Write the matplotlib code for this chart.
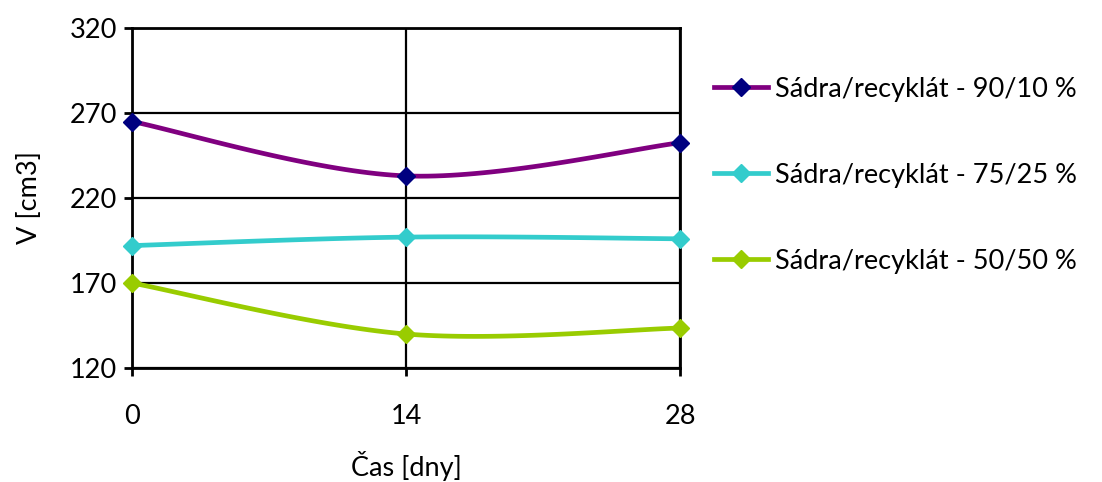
import numpy as np
import matplotlib
matplotlib.use("Agg")
import matplotlib.pyplot as plt
from matplotlib.lines import Line2D

plt.rcParams['font.family'] = ['Lato', 'DejaVu Sans']

# data
days = [0, 14, 28]
v_90_10 = [265, 233, 252.5]
v_75_25 = [192, 197, 196]
v_50_50 = [170, 140, 143.5]
labels = ["Sádra/recyklát - 90/10 %", "Sádra/recyklát - 75/25 %", "Sádra/recyklát - 50/50 %"]
line_cols = ["#800080", "#33CCCC", "#99CC00"]
mark_cols = ["#000080", "#33CCCC", "#99CC00"]
yticks = [120, 170, 220, 270, 320]


def smooth(x, y, n=40):
    # excel-like smoothed line (catmull-rom style bezier between points)
    x = np.asarray(x, float)
    y = np.asarray(y, float)
    px = np.concatenate([[x[0]], x, [x[-1]]])
    py = np.concatenate([[y[0]], y, [y[-1]]])
    xs, ys = [], []
    t = np.linspace(0, 1, n)
    for i in range(1, len(px) - 2):
        p0 = np.array([px[i], py[i]])
        p3 = np.array([px[i + 1], py[i + 1]])
        c1 = p0 + (p3 - np.array([px[i - 1], py[i - 1]])) / 6
        c2 = p3 - (np.array([px[i + 2], py[i + 2]]) - p0) / 6
        b = ((1 - t) ** 3)[:, None] * p0 + (3 * (1 - t) ** 2 * t)[:, None] * c1 \
            + (3 * (1 - t) * t ** 2)[:, None] * c2 + (t ** 3)[:, None] * p3
        xs.extend(b[:, 0])
        ys.extend(b[:, 1])
    return xs, ys


fig = plt.figure(figsize=(11.02, 4.82), dpi=100)
ax = fig.add_axes([132 / 1102, 114 / 482, 548 / 1102, 340 / 482])

handles = []
for vals, lc, mc, lab in zip([v_90_10, v_75_25, v_50_50], line_cols, mark_cols, labels):
    sx, sy = smooth(days, vals)
    ax.plot(sx, sy, color=lc, lw=3.4, solid_capstyle='round', zorder=3)
    ax.plot(days, vals, ls='none', marker='D', ms=9.5, color=mc, zorder=4, clip_on=False)
    handles.append(Line2D([], [], color=lc, lw=3.4, marker='D', ms=9.5,
                          markerfacecolor=mc, markeredgecolor=mc))

ax.set_xlim(0, 28)
ax.set_ylim(120, 320)
ax.set_xticks(days)
ax.set_yticks(yticks)
ax.grid(True, color='black', lw=1.6)
ax.set_axisbelow(True)
for s in ax.spines.values():
    s.set_linewidth(2)
    s.set_color('black')
ax.tick_params(axis='both', direction='out', length=6, width=2, labelsize=19.5)
ax.tick_params(axis='x', pad=20)
ax.tick_params(axis='y', pad=5)
ax.set_xlabel("Čas [dny]", fontsize=19.5, labelpad=16)
ax.set_ylabel("V [cm3]", fontsize=19.5, labelpad=20)

fig.legend(handles, labels, loc='upper left', bbox_to_anchor=(703 / 1102, 1 - 66 / 482),
           frameon=False, fontsize=19.5, handlelength=2.0, labelspacing=2.25,
           handletextpad=0.25, borderaxespad=0)

fig.savefig("out.png", dpi=100)
